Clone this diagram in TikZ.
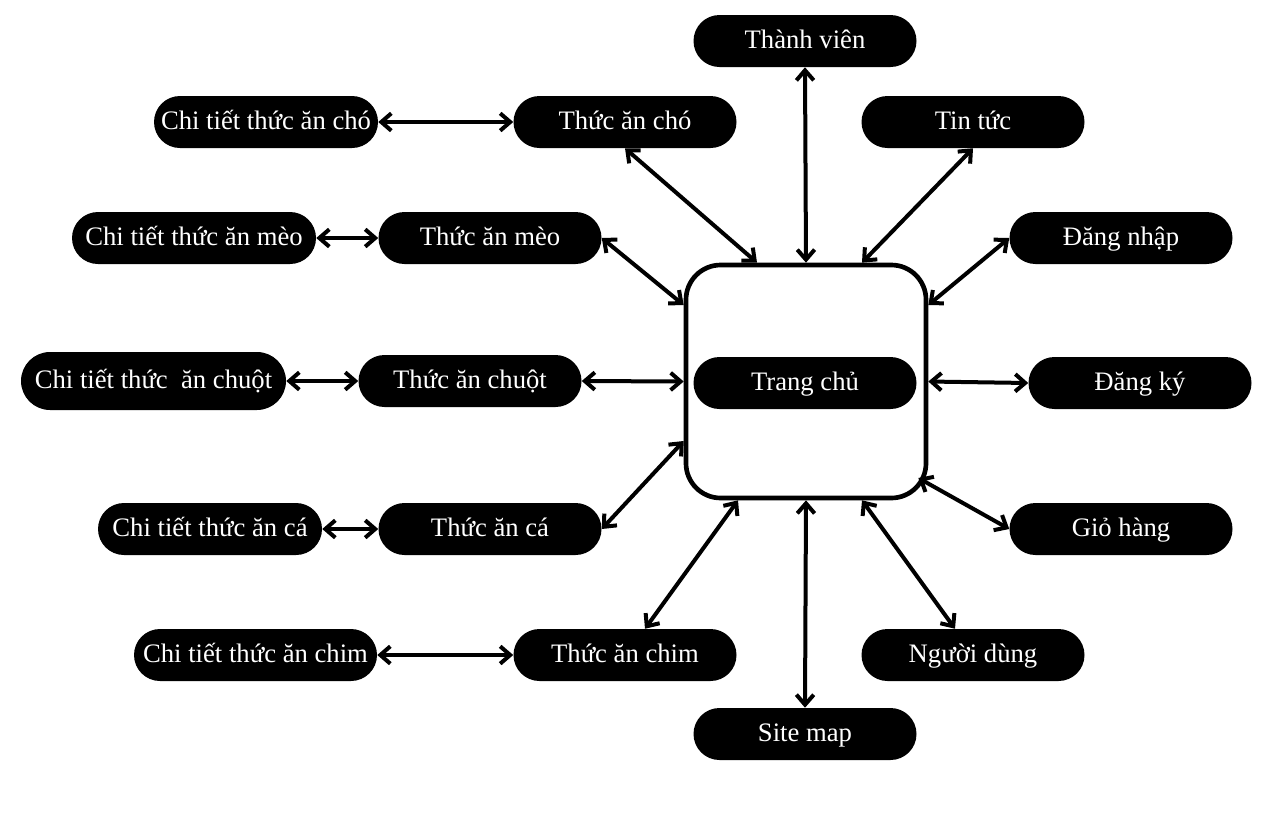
\documentclass[tikz,border=0pt]{standalone}
\usepackage{fontspec}
\setmainfont{Liberation Serif}
\usetikzlibrary{arrows.meta,calc}
\begin{document}
\begin{tikzpicture}[x=0.75pt,y=-0.75pt,
 pill/.style={fill=black,text=white,rounded corners=19.5pt,minimum width=167.25pt,minimum height=39pt,inner sep=0pt,text height=15pt,text depth=4pt,font=\fontsize{20}{24}\selectfont},
 link/.style={line width=3pt,{Straight Barb[length=7.5pt,width=13pt]}-{Straight Barb[length=7.5pt,width=13pt]}},
 hub/.style={draw=black,line width=3.5pt,rounded corners=26pt,minimum width=180pt,minimum height=174.75pt,inner sep=0pt}
]
\useasboundingbox (0,0) rectangle (1271,822);
\node[hub] (box) at (806,381.5) {};
\node[pill] (home) at (805,383) {Trang chủ};
\node[pill] (member) at (805,41) {Thành viên};
\node[pill] (news) at (973,122) {Tin tức};
\node[pill] (login) at (1121,238) {Đăng nhập};
\node[pill] (register) at (1140,383) {Đăng ký};
\node[pill] (cart) at (1121,529) {Giỏ hàng};
\node[pill] (user) at (973,655) {Người dùng};
\node[pill] (sitemap) at (805,734) {Site map};
\node[pill] (dog) at (625,122) {Thức ăn chó};
\node[pill] (cat) at (490,238) {Thức ăn mèo};
\node[pill] (mouse) at (470,381) {Thức ăn chuột};
\node[pill] (fish) at (490,529) {Thức ăn cá};
\node[pill] (bird) at (625,655) {Thức ăn chim};
\node[pill,minimum width=168pt] (dogd) at (266,122) {Chi tiết thức ăn chó};
\node[pill,minimum width=183pt] (catd) at (194,238) {Chi tiết thức ăn mèo};
\node[pill,minimum width=198.75pt,minimum height=43.5pt,rounded corners=21.75pt] (moused) at (153.5,381) {Chi tiết thức~ ăn chuột};
\node[pill,minimum width=168pt] (fishd) at (210,529) {Chi tiết thức ăn cá};
\node[pill,minimum width=182.25pt] (birdd) at (255.5,655) {Chi tiết thức ăn chim};
% detail links
\draw[link] (dogd.east) -- (dog.west);
\draw[link] (catd.east) -- (cat.west);
\draw[link] (moused.east) -- (mouse.west);
\draw[link] (fishd.east) -- (fish.west);
\draw[link] (birdd.east) -- (bird.west);
% hub links
\draw[link] (member.south) -- (box.north);
\draw[link] (dog.south) -- ($(box.north)+(-49,0)$);
\draw[link] (news.south) -- ($(box.north)+(56,0)$);
\draw[link] (cat.east) -- ($(box.west)+(0,-76.5)$);
\draw[link] (login.west) -- ($(box.east)+(0,-76.5)$);
\draw[link] (mouse.east) -- (box.west);
\draw[link] (register.west) -- (box.east);
\draw[link] (fish.east) -- ($(box.west)+(0,59.5)$);
\draw[link] (cart.west) -- ($(box.east)+(-10,96.5)$);
\draw[link] ($(bird.north)+(20,0)$) -- ($(box.south)+(-68,0)$);
\draw[link] ($(user.north)+(-18,0)$) -- ($(box.south)+(56,0)$);
\draw[link] (sitemap.north) -- (box.south);
\end{tikzpicture}
\end{document}
